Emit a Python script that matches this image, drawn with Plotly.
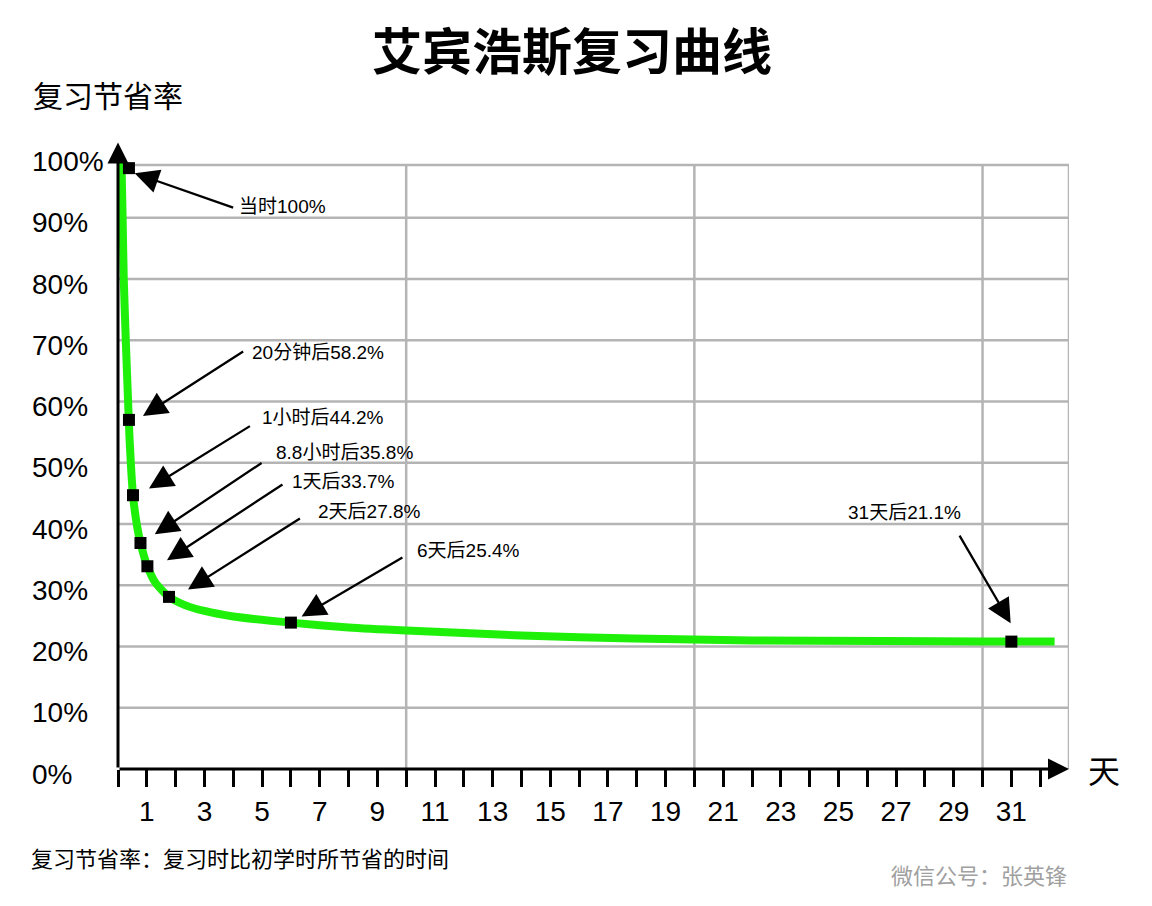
import plotly.graph_objects as go

# ---------------- data ----------------
curve_x = [0.12, 0.16, 0.20, 0.27, 0.35, 0.40, 0.52, 0.65, 0.78, 1.02, 1.30, 1.77,
           2.30, 3.00, 4.00, 6.00, 8.00, 10.0, 12.0, 14.0, 17.9, 22.0, 26.6, 30.0, 32.5]
curve_y = [99.2, 90.0, 80.0, 70.0, 60.0, 54.0, 44.7, 40.0, 36.9, 33.1, 30.4, 28.1,
           26.8, 25.8, 24.9, 23.9, 23.1, 22.6, 22.2, 21.8, 21.3, 21.0, 20.9, 20.8, 20.8]

mark_labels = ["当时100%", "20分钟后58.2%", "1小时后44.2%", "8.8小时后35.8%",
               "1天后33.7%", "2天后27.8%", "6天后25.4%", "31天后21.1%"]
mark_x = [0.38, 0.38, 0.52, 0.78, 1.02, 1.77, 6.0, 31.0]
mark_y = [98.1, 57.0, 44.7, 36.9, 33.1, 28.1, 23.9, 20.8]

x_ticks = list(range(0, 33))
x_ticklabels = [str(v) if v % 2 == 1 else "" for v in x_ticks]
y_ticks = [0, 10, 20, 30, 40, 50, 60, 70, 80, 90, 100]
y_ticklabels = [f"{v}%" for v in y_ticks]

title_text = "艾宾浩斯复习曲线"
y_title = "复习节省率"
x_title = "天"
note_text = "复习节省率：复习时比初学时所节省的时间"
credit_text = "微信公号：张英锋"

# ---------------- styling / layout ----------------
OFF = 8  # page body margin
VW, VH = 1152, 906
PL, PR, PT, PB = 118.3, 1068.7, 132, 769  # plot area in viewport pixels
PW, PH = PR - PL, PB - PT
W, H = VW - OFF, VH - OFF
L, T = PL - OFF, PT - OFF
R, B = W - L - PW, H - T - PH
XMAX, YMAX = 33, 104
TOP_BORDER = 98.6
FONT = "Liberation Sans, Arial, Noto Sans CJK SC, sans-serif"
GRID = "#b4b4b4"
GREEN = "#1ef00a"

def px_x(px):
    return (px - PL) / PW

def px_y(py):
    return (PB - py) / PH

# pixel offsets (tip / tail / text) relative to each marker
tip_off = [(5.7, 5.0), (14, -4), (16, -6.7), (14.3, -8.7), (19.6, -6), (19, -7.4), (10.7, -6), (-0.7, -18.4)]
tail_off = [(105.7, 40), (115.7, -69.3), (118.4, -70), (122.6, -81), (136.6, -82.7), (132.4, -79.4), (113, -66), (-52.7, -107.4)]
text_off = [(107.7, 38.7), (120.7, -67), (126.7, -78), (133.3, -90), (142.3, -84.3), (146.7, -85), (124, -71.7), (-106.7, -129.4)]
text_anchor = ["left"] * 7 + ["center"]

fig = go.Figure()

fig.add_trace(go.Scatter(x=curve_x, y=curve_y, mode="lines",
                         line=dict(color=GREEN, width=8, shape="spline", smoothing=0.6),
                         hoverinfo="skip", cliponaxis=False))
fig.add_trace(go.Scatter(x=mark_x, y=mark_y, mode="markers",
                         marker=dict(symbol="square", size=12, color="black"),
                         cliponaxis=False))

shapes = []
for v in [10, 20, 30, XMAX]:
    shapes.append(dict(type="line", xref="x", yref="y", x0=v, x1=v, y0=0, y1=TOP_BORDER,
                       line=dict(color=GRID, width=2.5), layer="below"))
for v in [10, 20, 30, 40, 50, 60, 70, 80, 90, TOP_BORDER]:
    shapes.append(dict(type="line", xref="x", yref="y", x0=0, x1=XMAX, y0=v, y1=v,
                       line=dict(color=GRID, width=2.5), layer="below"))

ann = []
# axis lines with arrows
ann.append(dict(x=XMAX, y=0, ax=0, ay=0, xref="x", yref="y", axref="x", ayref="y",
                text="", showarrow=True, arrowhead=2, arrowsize=1.4, arrowwidth=3,
                arrowcolor="black"))
ann.append(dict(x=0, y=102.3, ax=0, ay=0, xref="x", yref="y", axref="x", ayref="y",
                text="", showarrow=True, arrowhead=2, arrowsize=1.4, arrowwidth=3,
                arrowcolor="black"))

for i, lab in enumerate(mark_labels):
    tdx, tdy = tip_off[i]
    ldx, ldy = tail_off[i]
    ann.append(dict(x=mark_x[i], y=mark_y[i], xref="x", yref="y",
                    xshift=tdx, yshift=-tdy, ax=ldx - tdx, ay=ldy - tdy,
                    text="", showarrow=True, arrowhead=2, arrowsize=2.1,
                    arrowwidth=2.3, arrowcolor="black"))
    ox, oy = text_off[i]
    ann.append(dict(x=mark_x[i], y=mark_y[i], xref="x", yref="y",
                    xshift=ox, yshift=-oy, text=lab, showarrow=False,
                    xanchor=text_anchor[i], yanchor="middle",
                    font=dict(size=19, color="black", family=FONT)))

# y tick labels (left aligned)
for v, t in zip(y_ticks, y_ticklabels):
    ann.append(dict(x=px_x(30), y=v, xref="paper", yref="y", yshift=-5,
                    text=t, showarrow=False, xanchor="left", yanchor="middle",
                    font=dict(size=28, color="black", family=FONT)))

ann.append(dict(x=px_x(31), y=px_y(97), xref="paper", yref="paper", text=y_title,
                showarrow=False, xanchor="left", yanchor="middle",
                font=dict(size=30, color="black", family=FONT)))
ann.append(dict(x=px_x(1086), y=px_y(771.5), xref="paper", yref="paper", text=x_title,
                showarrow=False, xanchor="left", yanchor="middle",
                font=dict(size=32, color="black", family=FONT)))
ann.append(dict(x=px_x(29), y=px_y(859), xref="paper", yref="paper", text=note_text,
                showarrow=False, xanchor="left", yanchor="middle",
                font=dict(size=22, color="black", family=FONT)))
ann.append(dict(x=px_x(1069), y=px_y(876), xref="paper", yref="paper", text=credit_text,
                showarrow=False, xanchor="right", yanchor="middle",
                font=dict(size=22, color="#a0a0a0", family=FONT)))

fig.update_layout(
    width=W, height=H,
    margin=dict(l=L, r=R, t=T, b=B, pad=0),
    paper_bgcolor="white", plot_bgcolor="white",
    showlegend=False,
    title=dict(text=f"<b>{title_text}</b>", x=(572 - OFF) / W, xanchor="center",
               y=1 - (52 - OFF) / H, yanchor="middle", yref="container",
               font=dict(size=50, color="black", family="Noto Sans CJK SC, sans-serif")),
    xaxis=dict(range=[0, XMAX], showgrid=False, zeroline=False, showline=False,
               tickmode="array", tickvals=x_ticks, ticktext=x_ticklabels,
               ticks="outside", ticklen=17, tickwidth=2.5, tickcolor="black",
               tickfont=dict(size=28, color="black", family=FONT), fixedrange=True),
    yaxis=dict(range=[0, YMAX], showgrid=False, zeroline=False, showline=False,
               showticklabels=False, ticks="", fixedrange=True),
    shapes=shapes,
    annotations=ann,
)

fig.write_html("out.html")
